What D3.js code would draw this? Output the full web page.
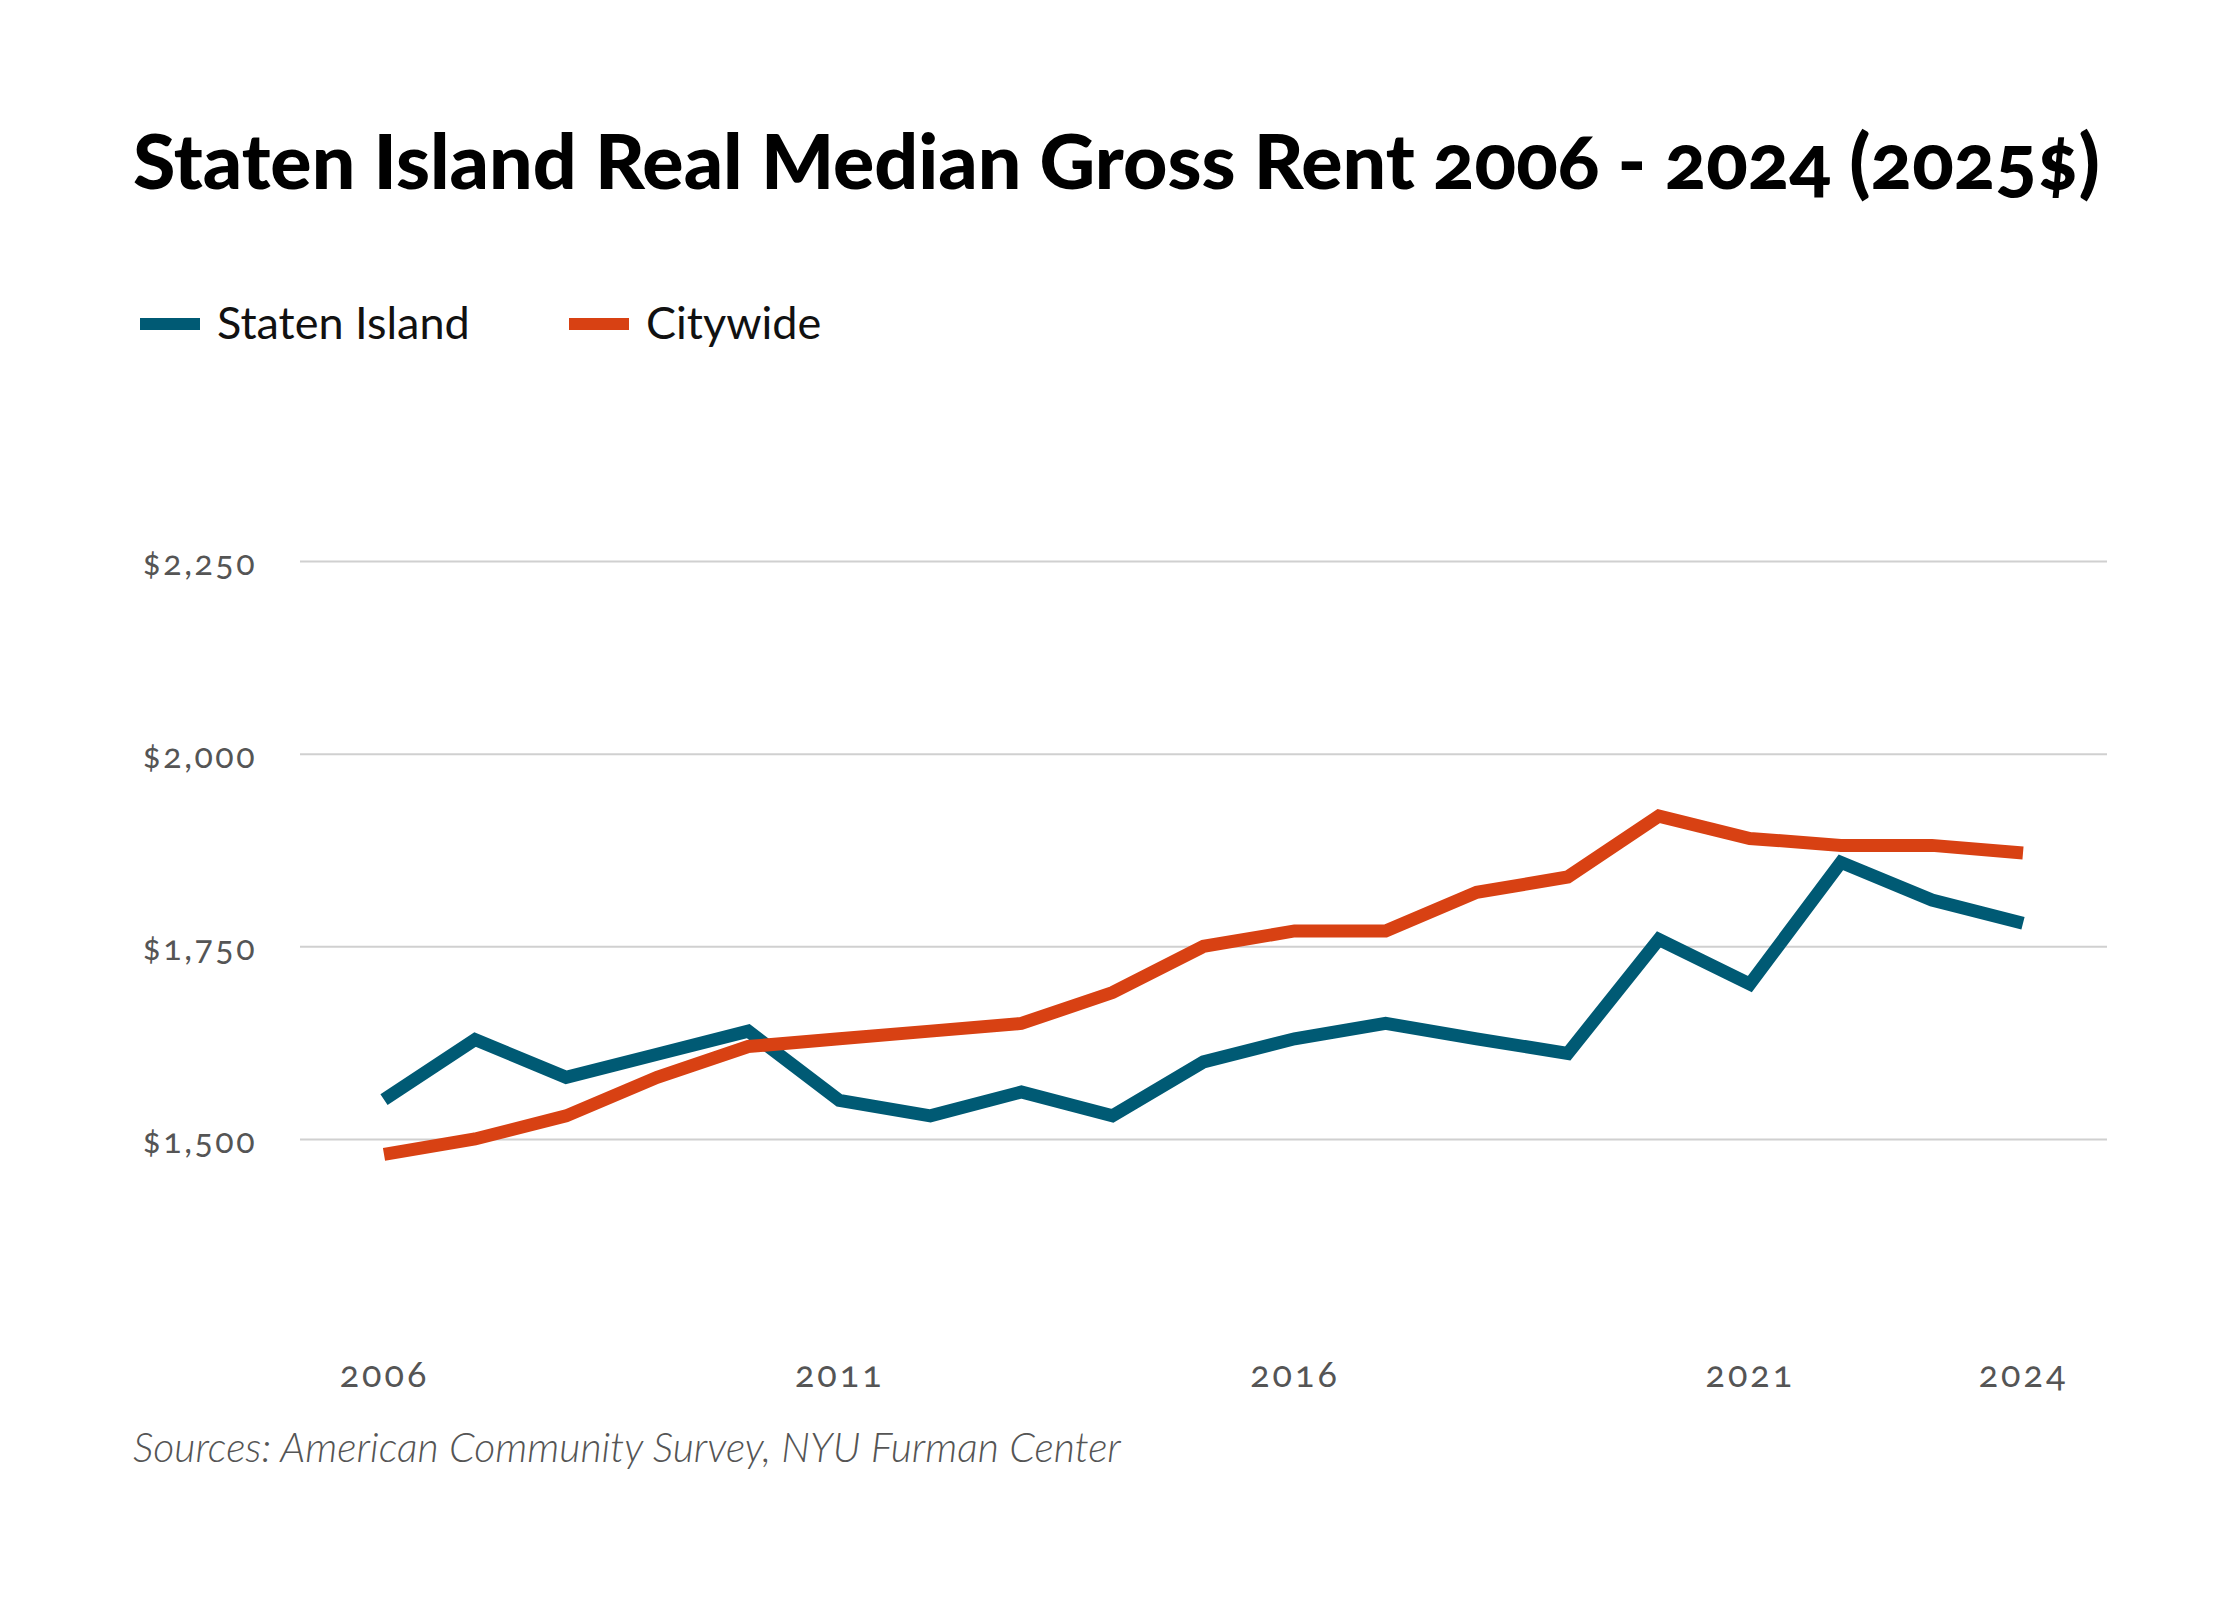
<!DOCTYPE html>
<html>
<head>
<meta charset="utf-8">
<script src="https://cdn.jsdelivr.net/npm/d3@7"></script>
<style>
  body { margin: 0; background: #fff; }
  svg { display: block; font-family: Lato, "Open Sans", sans-serif; }
  .axis-y text, .axis-x text { font-family: Lato, sans-serif; fill: #555; font-variant-numeric: oldstyle-nums; }
  .axis-y line { stroke: #d0d0d0; stroke-width: 2; }
  .axis-y .domain, .axis-x .domain, .axis-x line { display: none; }
</style>
</head>
<body>
<div id="line-chart"></div>
<script>
// Data
const years = d3.range(2006, 2025);
const statenIsland = [1551, 1629, 1580, 1610, 1640, 1550, 1530, 1561, 1530, 1600,
  1630, 1650, 1630, 1611, 1759, 1701, 1859, 1810, 1780];
const citywide = [1480, 1500, 1530, 1580, 1620, 1630, 1640, 1650, 1690, 1750,
  1770, 1770, 1820, 1840, 1919, 1890, 1881, 1881, 1871];
const yTicks = [1500, 1750, 2000, 2250];
const xTicks = [2006, 2011, 2016, 2021, 2024];

const seriesInfo = [
  { id: "si", label: "Staten Island", values: statenIsland, color: "#005a74" },
  { id: "cw", label: "Citywide", values: citywide, color: "#d84113" }
];

const width = 2240;
const height = 1600;

const svg = d3.select("#line-chart")
  .append("svg")
    .attr("width", width)
    .attr("height", height)
    .attr("viewBox", `0, 0, ${width}, ${height}`);

// Title
svg.append("text")
  .attr("x", 133)
  .attr("y", 189)
  .attr("font-size", 77)
  .attr("font-weight", 900)
  .attr("fill", "#000")
  .style("font-variant-numeric", "oldstyle-nums")
  .text("Staten Island Real Median Gross Rent 2006 - 2024 (2025$)");

// Legend
const legendX = [140, 569];
seriesInfo.forEach((s, i) => {
  svg.append("rect")
    .attr("x", legendX[i])
    .attr("y", 318)
    .attr("width", 60)
    .attr("height", 12)
    .attr("fill", s.color);
  svg.append("text")
    .attr("x", legendX[i] + 77)
    .attr("y", 339)
    .attr("font-size", 45)
    .attr("fill", "#111")
    .text(s.label);
});

// Scales
const xScale = d3.scaleLinear()
  .domain([2006, 2024])
  .range([384, 2023]);

const yScale = d3.scaleLinear()
  .domain([1500, 2250])
  .range([1139, 561]);

const gridLeft = 300;
const gridRight = 2107;

// Left axis with gridlines
const leftAxis = d3.axisLeft(yScale)
  .tickValues(yTicks)
  .tickFormat(d => "$" + d3.format(",")(d))
  .tickSize(-(gridRight - gridLeft))
  .tickPadding(43);
svg.append("g")
    .attr("class", "axis-y")
    .attr("transform", `translate(${gridLeft}, 0)`)
    .call(leftAxis)
  .selectAll("text")
    .attr("font-size", 34)
    .attr("letter-spacing", 2.5)
    .attr("dy", "0.4em");

// Bottom axis
const bottomAxis = d3.axisBottom(xScale)
  .tickValues(xTicks)
  .tickFormat(d3.format("d"))
  .tickSize(0)
  .tickPadding(0);
svg.append("g")
    .attr("class", "axis-x")
    .attr("transform", "translate(0, 1361)")
    .call(bottomAxis)
  .selectAll("text")
    .attr("font-size", 36)
    .attr("letter-spacing", 3);

// Lines
const lineGenerator = values => d3.line()
  .x((d, i) => xScale(years[i]))
  .y(d => yScale(d))(values);

seriesInfo.forEach(s => {
  svg.append("path")
    .attr("d", lineGenerator(s.values))
    .attr("fill", "none")
    .attr("stroke", s.color)
    .attr("stroke-width", 13)
    .attr("stroke-linejoin", "miter");
});

// Source note
svg.append("text")
  .attr("x", 133)
  .attr("y", 1462)
  .attr("font-size", 41)
  .attr("font-style", "italic")
  .attr("font-weight", 300)
  .attr("fill", "#555")
  .text("Sources: American Community Survey, NYU Furman Center");
</script>
</body>
</html>
